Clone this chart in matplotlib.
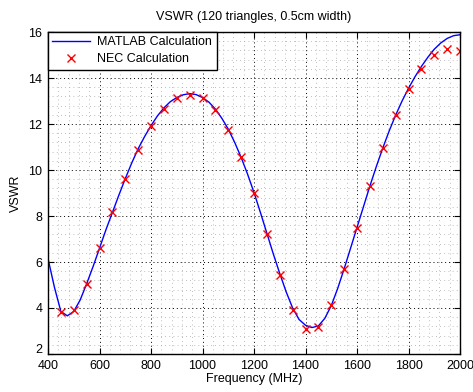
import numpy as np
import matplotlib
matplotlib.use("Agg")
import matplotlib.pyplot as plt
import matplotlib.transforms as mtransforms
from matplotlib.ticker import MultipleLocator

plt.rcParams['font.family'] = ['Liberation Sans', 'DejaVu Sans']

# MATLAB model, sampled every 25 MHz
freq_matlab = np.arange(400, 2001, 25)
vswr_matlab = [
    6.15, 4.90, 3.85, 3.66, 3.85, 4.35, 5.05, 5.80, 6.60, 7.40,
    8.15, 8.90, 9.62, 10.30, 10.92, 11.45, 11.93, 12.35, 12.70, 12.97,
    13.15, 13.27, 13.32, 13.28, 13.15, 12.95, 12.65, 12.25, 11.78, 11.20,
    10.55, 9.82, 9.02, 8.15, 7.25, 6.35, 5.50, 4.70, 4.00, 3.50,
    3.25, 3.15, 3.22, 3.55, 4.10, 4.85, 5.70, 6.60, 7.50, 8.40,
    9.30, 10.15, 10.95, 11.70, 12.38, 13.00, 13.55, 14.05, 14.50, 14.90,
    15.25, 15.52, 15.72, 15.84, 15.88,
]

# NEC simulation results, every 50 MHz
freq_nec = np.arange(450, 2001, 50)
vswr_nec = [
    3.84, 3.92, 5.06, 6.61, 8.17, 9.62, 10.89, 11.90, 12.64, 13.12,
    13.27, 13.13, 12.60, 11.75, 10.56, 9.01, 7.23, 5.42, 3.92, 3.07,
    3.16, 4.11, 5.69, 7.49, 9.30, 10.96, 12.37, 13.52, 14.41, 14.99,
    15.25, 15.16,
]

fig = plt.figure(figsize=(4.73, 3.92), dpi=100)
ax = fig.add_axes([48 / 473, 38 / 392, 412 / 473, 322 / 392])

ax.plot(freq_matlab, vswr_matlab, color='blue', lw=1.0, label='MATLAB Calculation')
ax.plot(freq_nec, vswr_nec, 'x', color='red', ms=5.5, mew=1.0, label='NEC Calculation')

ax.set_xlim(400, 2000)
ax.set_ylim(2, 16)
ax.xaxis.set_major_locator(MultipleLocator(200))
ax.yaxis.set_major_locator(MultipleLocator(2))
ax.xaxis.set_minor_locator(MultipleLocator(40))
ax.yaxis.set_minor_locator(MultipleLocator(0.4))

ax.grid(which='major', color='black', linestyle=(0, (1, 3)), linewidth=0.7)
ax.grid(which='minor', color='#a8a8a8', linestyle=(0, (1, 4)), linewidth=0.6)
ax.set_axisbelow(True)

ax.tick_params(which='major', direction='in', length=4, width=0.8,
               top=True, right=True, labelsize=9, pad=4)
ax.tick_params(which='minor', length=0)
for sp in ax.spines.values():
    sp.set_linewidth(1.0)

ax.set_title('VSWR (120 triangles, 0.5cm width)', fontsize=9, pad=9)
ax.set_xlabel('Frequency (MHz)', fontsize=9, labelpad=1)
ax.set_ylabel('VSWR', fontsize=9, labelpad=5)

leg = ax.legend(loc='upper left', fontsize=9, fancybox=False, framealpha=1,
                edgecolor='black', borderaxespad=0, handlelength=3.0,
                handletextpad=0.6, borderpad=0.35, labelspacing=0.4)
leg.get_frame().set_linewidth(1.0)

# lift the bottom y label a little so it sits above the "400"
fig.canvas.draw()
for tick in ax.yaxis.get_major_ticks():
    if abs(tick.get_loc() - 2) < 1e-6:
        lbl = tick.label1
        lbl.set_transform(lbl.get_transform() +
                          mtransforms.ScaledTranslation(0, 4 / 72, fig.dpi_scale_trans))

fig.savefig('out.png', dpi=100)
